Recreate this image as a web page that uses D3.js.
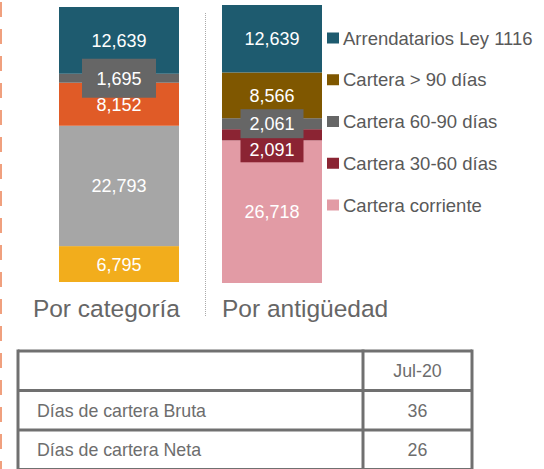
<!DOCTYPE html>
<html>
<head>
<meta charset="utf-8">
<script src="https://cdn.jsdelivr.net/npm/d3@7"></script>
<style>
  body { margin: 0; background: #fff; }
  svg { display: block; font-family: "Liberation Sans", Arial, sans-serif; }
</style>
</head>
<body>
<svg id="drawing_region"></svg>
<script>
// --- data ---
const leftSegments = ["Arrendatarios Ley 1116", "Otros", "Comercial", "Residencial", "Corporativo"];
const leftValues = [12639, 1695, 8152, 22793, 6795];          // top to bottom
const leftColors = ["#1e5b6f", "#666666", "#e05b27", "#a6a6a6", "#f2ad1c"];

const rightSegments = ["Arrendatarios Ley 1116", "Cartera > 90 días", "Cartera 60-90 días", "Cartera 30-60 días", "Cartera corriente"];
const rightValues = [12639, 8566, 2061, 2091, 26718];          // top to bottom
const rightColors = ["#1e5b6f", "#7f5700", "#666666", "#8b2433", "#e29ba5"];

const barLabels = ["Por categoría", "Por antigüedad"];

const tableHeader = ["", "Jul-20"];
const tableRows = [
    ["Días de cartera Bruta", "36"],
    ["Días de cartera Neta", "26"]
];

const fmt = d3.format(",");

class StackedBar {
    constructor(config, names, values, colors) {
        this.config = config;
        this.names = names;
        this.values = values;
        this.colors = colors;
        this.init();
    }

    init() {
        let self = this;
        // stack from the bottom up
        let row = {};
        self.names.forEach((n, i) => row[i] = self.values[i]);
        let keys = self.names.map((n, i) => i).reverse();
        self.series = d3.stack().keys(keys)([row]);

        self.y = d3.scaleLinear()
            .domain([0, d3.sum(self.values)])
            .range([self.config.bottom, self.config.top]);
    }

    render(svg) {
        let self = this;
        let g = svg.append('g');
        let x0 = self.config.x, w = self.config.width;

        g.selectAll('rect.seg')
            .data(self.series)
            .join('rect')
            .attr('class', 'seg')
            .attr('x', x0)
            .attr('width', w)
            .attr('y', d => self.y(d[0][1]))
            .attr('height', d => self.y(d[0][0]) - self.y(d[0][1]))
            .attr('fill', d => self.colors[d.key]);

        self.series.forEach(d => {
            let mid = (self.y(d[0][0]) + self.y(d[0][1])) / 2;
            let box = self.config.boxes[d.key];
            let cy = mid;
            if (box) {
                cy = mid + (box.shift || 0);
                g.append('rect')
                    .attr('x', x0 + w / 2 - box.w / 2)
                    .attr('y', cy - box.h / 2)
                    .attr('width', box.w)
                    .attr('height', box.h)
                    .attr('fill', self.colors[d.key]);
            }
            g.append('text')
                .attr('x', x0 + w / 2)
                .attr('y', cy)
                .attr('dy', '0.36em')
                .attr('text-anchor', 'middle')
                .attr('fill', 'white')
                .style('font-size', '18px')
                .text(fmt(self.values[d.key]));
        });

        g.append('text')
            .attr('x', self.config.labelX)
            .attr('y', 317)
            .attr('text-anchor', self.config.labelAnchor)
            .attr('fill', '#666666')
            .style('font-size', '24.5px')
            .text(self.config.label);
    }
}

const svg = d3.select('#drawing_region')
    .attr('width', 544)
    .attr('height', 469);

// orange dashed rule on the left edge
svg.append('line')
    .attr('x1', 1).attr('x2', 1)
    .attr('y1', 2).attr('y2', 469)
    .attr('stroke', '#f0a07e')
    .attr('stroke-width', 2)
    .attr('stroke-dasharray', '15,12');

// dotted divider between the bars
svg.append('line')
    .attr('x1', 205.5).attr('x2', 205.5)
    .attr('y1', 13).attr('y2', 316)
    .attr('stroke', '#aaaaaa')
    .attr('stroke-width', 1)
    .attr('stroke-dasharray', '1,1');

const leftBar = new StackedBar({
    x: 59, width: 120, top: 7, bottom: 282,
    label: barLabels[0], labelX: 180, labelAnchor: 'end',
    boxes: { 1: { w: 74, h: 39 } }
}, leftSegments, leftValues, leftColors);
leftBar.render(svg);

const rightBar = new StackedBar({
    x: 222, width: 100, top: 5, bottom: 283,
    label: barLabels[1], labelX: 222, labelAnchor: 'start',
    boxes: { 2: { w: 63, h: 29 }, 3: { w: 63, h: 25, shift: 15 } }
}, rightSegments, rightValues, rightColors);
rightBar.render(svg);

// legend
const legend = svg.append('g');
const legendY = d3.scalePoint().domain(rightSegments).range([38, 205]);
rightSegments.forEach((name, i) => {
    legend.append('rect')
        .attr('x', 327).attr('y', legendY(name) - 5.5)
        .attr('width', 12).attr('height', 11)
        .attr('fill', rightColors[i]);
    legend.append('text')
        .attr('x', 343).attr('y', legendY(name))
        .attr('dy', '0.36em')
        .attr('fill', '#595959')
        .style('font-size', '18.5px')
        .text(name);
});

// table
const tbl = svg.append('g');
const colX = [18, 363, 472];
const rowY = d3.range(tableRows.length + 2).map(i => 351 + i * 39.5);
const allRows = [tableHeader].concat(tableRows);

allRows.forEach((r, i) => {
    let cy = (rowY[i] + rowY[i + 1]) / 2;
    tbl.append('text')
        .attr('x', 37).attr('y', cy).attr('dy', '0.36em')
        .attr('fill', '#6d6d6d')
        .style('font-size', '17.8px')
        .text(r[0]);
    tbl.append('text')
        .attr('x', (colX[1] + colX[2]) / 2).attr('y', cy).attr('dy', '0.36em')
        .attr('text-anchor', 'middle')
        .attr('fill', '#6d6d6d')
        .style('font-size', '17.8px')
        .text(r[1]);
});

rowY.forEach(y => {
    tbl.append('line')
        .attr('x1', colX[0]).attr('x2', colX[2])
        .attr('y1', y).attr('y2', y)
        .attr('stroke', '#707070').attr('stroke-width', 3);
});
colX.forEach(x => {
    tbl.append('line')
        .attr('x1', x).attr('x2', x)
        .attr('y1', rowY[0] - 1.5).attr('y2', rowY[rowY.length - 1] + 1.5)
        .attr('stroke', '#707070').attr('stroke-width', 3);
});
</script>
</body>
</html>
